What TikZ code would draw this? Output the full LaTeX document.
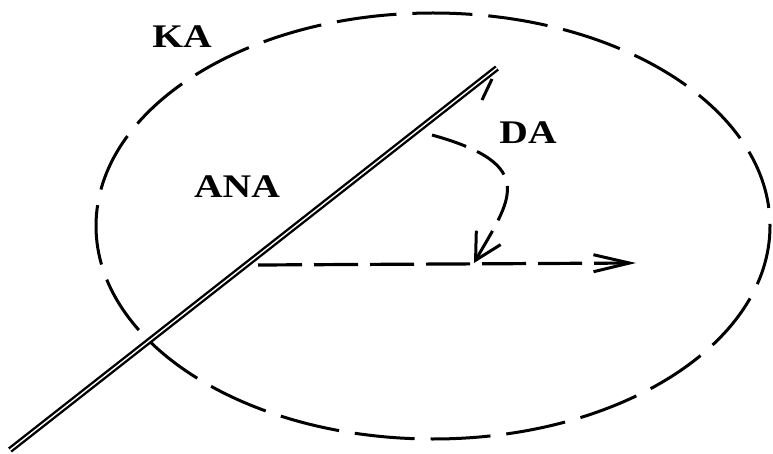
\documentclass[tikz,border=0pt]{standalone}
\usepackage{fontspec}
\setmainfont{Liberation Serif}
\usetikzlibrary{arrows.meta}
\begin{document}
\begin{tikzpicture}[x=1pt,y=-1pt,
  lbl/.style={font=\fontsize{33}{33}\selectfont\bfseries, inner sep=0pt},
  ell/.style={line width=3pt, dash pattern=on 60pt off 16pt},
  dbl/.style={line width=2.4pt, double, double distance=1.4pt},
  dsh/.style={line width=3.2pt, dash pattern=on 44pt off 12pt},
  crv/.style={line width=3pt, dash pattern=on 36pt off 12pt}]
\useasboundingbox (0,0) rectangle (773,454);
% ellipse
\draw[ell] (433,226) ellipse [x radius=337, y radius=213];
% double line
\coordinate (lo) at (10,450);
\coordinate (hi) at (497,68);
\draw[dbl] (lo) -- (hi);
\coordinate (b1) at (482,100);
\coordinate (b2) at (492,79);
\draw[line width=3pt] (b1) -- (b2);
% horizontal dashed arrow
\coordinate (h0) at (258,265);
\coordinate (h1) at (636,263);
\draw[dsh, -{Straight Barb[length=36pt,width=17pt,line width=3pt]}] (h0) -- (h1);
% curved dashed arrow
\coordinate (c0) at (432,135);
\coordinate (c1) at (474,263);
\draw[crv, -{Straight Barb[length=26pt,width=28pt,line width=3pt]}] (c0) .. controls (540,165) and (510,200) .. (c1);
% labels
\node[lbl] (ka) at (182,37) {\scalebox{1.2}[1]{KA}};
\node[lbl] (da) at (528,133) {\scalebox{1.2}[1]{DA}};
\node[lbl] (ana) at (237,187) {\scalebox{1.2}[1]{ANA}};
\end{tikzpicture}
\end{document}
